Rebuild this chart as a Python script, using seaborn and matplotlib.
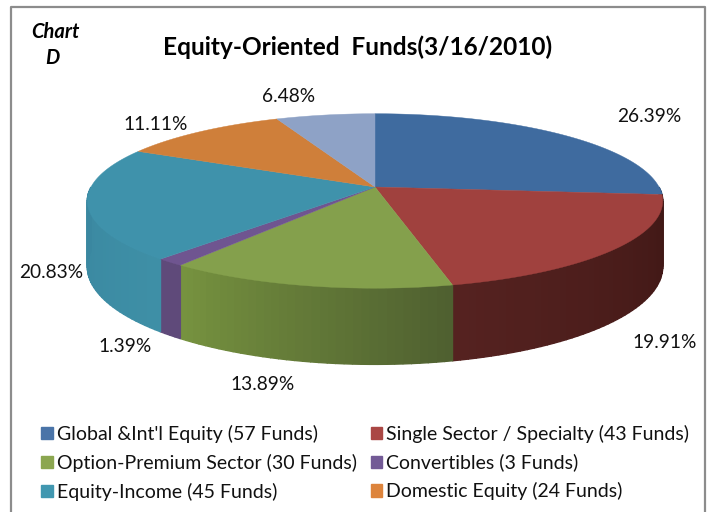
#%%
import numpy as np
import seaborn as sns
import matplotlib.pyplot as plt
from matplotlib.patches import Patch

# share of funds per sector, clockwise from 12 o'clock
sectors = ["Global &Int'l Equity (57 Funds)", "Single Sector / Specialty (43 Funds)",
           "Option-Premium Sector (30 Funds)", "Convertibles (3 Funds)",
           "Equity-Income (45 Funds)", "Domestic Equity (24 Funds)", "Other"]
shares = [26.39, 19.91, 13.89, 1.39, 20.83, 11.11, 6.48]
legend_order = [0, 2, 4, 1, 3, 5]

top_colors = ['#3F6B9F', '#A0413E', '#84A04C', '#6F5590', '#3F92AB', '#CF7F3A', '#8EA2C6']
legend_colors = ['#4A74A8', '#AA4744', '#8BA650', '#735A96', '#4197B0', '#DD843C', '#8EA2C6']
side_left = ['#2F5078', '#552220', '#76923F', '#5F4A7A', '#3A87A0', '#A0622C', '#6C7D9A']
side_right = ['#2F5078', '#3F1715', '#4F6030', '#5F4A7A', '#3E8FA6', '#A0622C', '#6C7D9A']

label_x = [649, 665, 263, 125, 51, 156, 289]
label_y = [117, 343, 385, 346, 272, 125, 97]

# perspective of the tilted disc, in pixels
cx, cy = 375, 187
rx, ry = 284, 85
tilt = 0.16
depth = 64

sns.set_theme(style="white")
plt.rcParams['font.family'] = ['Lato', 'DejaVu Sans']


def project(angle, r=1.0, drop=0.0):
    u = r * np.sin(angle)
    v = r * np.cos(angle)
    w = 1 + tilt * v
    return cx + rx * u / w, cy + (-ry * v + drop) / w


def mix(c1, c2, t):
    a = np.array(sns.color_palette([c1, c2]))
    return tuple(a[0] * (1 - t) + a[1] * t)


fig = plt.figure(figsize=(7.09, 5.12), dpi=100)
ax = fig.add_axes([0, 0, 1, 1])
ax.set_xlim(0, 709)
ax.set_ylim(512, 0)
ax.axis('off')

# frame
ax.plot([11, 11, 705, 705], [512, 7, 7, 512], color='#8C8C8C', lw=1.6)

edges = np.radians(np.cumsum([0] + shares) * 3.6)

# rim of the disc, only the front half shows
for i in range(len(shares)):
    a0 = max(edges[i], np.pi / 2)
    a1 = min(edges[i + 1], 3 * np.pi / 2)
    if a1 <= a0:
        continue
    steps = np.linspace(a0, a1, int((a1 - a0) * 40) + 2)
    for j in range(len(steps) - 1):
        t = j / max(len(steps) - 2, 1)
        a = steps[j:j + 2]
        x0, y0 = project(a)
        x1, y1 = project(a, drop=depth)
        col = mix(side_right[i], side_left[i], t)
        ax.fill(np.r_[x0, x1[::-1]], np.r_[y0, y1[::-1]], color=col, lw=1.0)

# top of the disc
for i in range(len(shares)):
    a = np.linspace(edges[i], edges[i + 1], 120)
    x, y = project(a)
    ax.fill(np.r_[cx, x], np.r_[cy, y], color=top_colors[i], lw=0.3)

for val, x, y in zip(shares, label_x, label_y):
    ax.text(x, y, f"{val:.2f}%", ha='center', va='center', fontsize=13.8, color='#111111')

ax.text(358, 47, "Equity-Oriented  Funds(3/16/2010)", ha='center', va='center',
        fontsize=17.6, fontweight='bold', color='black')
ax.text(55, 32, "Chart", ha='center', va='center', fontsize=14.5, fontweight='bold',
        fontstyle='italic', color='black')
ax.text(52, 58, "D", ha='center', va='center', fontsize=14.5, fontweight='bold',
        fontstyle='italic', color='black')

handles = [Patch(color=legend_colors[i], label=sectors[i]) for i in legend_order]
ax.legend(handles=handles, ncol=2, loc='upper left', bbox_to_anchor=(0.058, 0.170),
          frameon=False, fontsize=14.0, handlelength=0.6, handleheight=0.6,
          handletextpad=0.2, columnspacing=0.72, labelspacing=0.55,
          borderpad=0, borderaxespad=0, labelcolor='#111111')

plt.savefig('out.png', dpi=100)
